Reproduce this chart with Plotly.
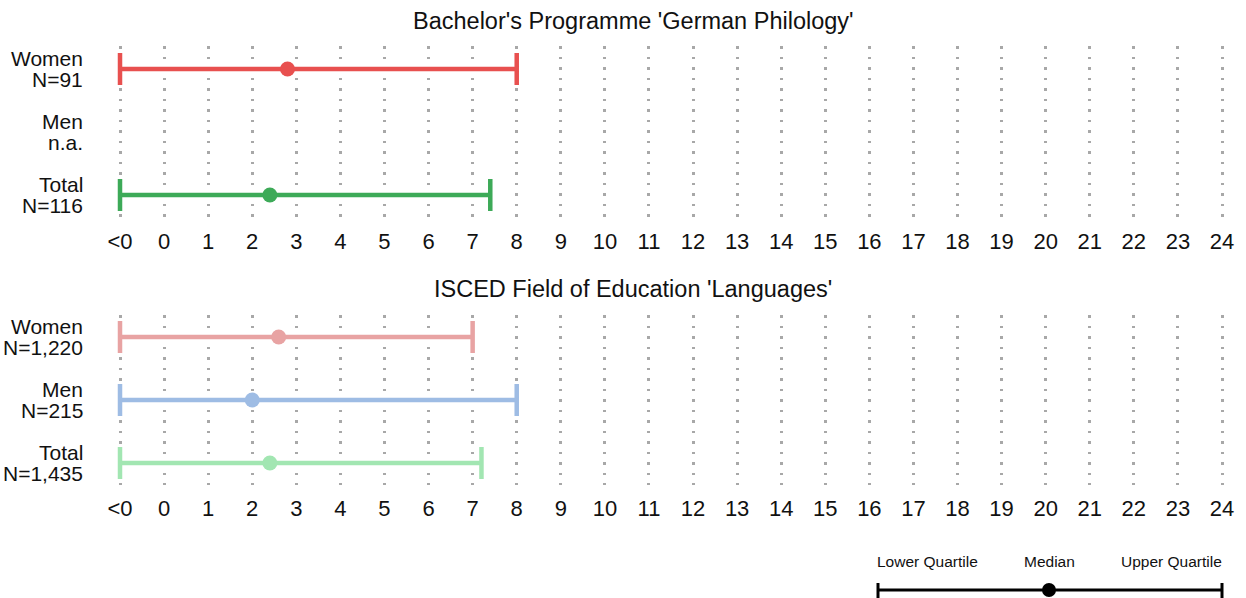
import plotly.graph_objects as go

W, H = 1246, 598

categories = ["Women", "Men", "Total"]

top_title = "Bachelor's Programme 'German Philology'"
top_n = ["N=91", "n.a.", "N=116"]
top_lower = [-1, None, -1]
top_median = [2.8, None, 2.4]
top_upper = [8.0, None, 7.4]
top_colors = ["#E8504F", "#9EBCE4", "#3DAA58"]

bottom_title = "ISCED Field of Education 'Languages'"
bottom_n = ["N=1,220", "N=215", "N=1,435"]
bottom_lower = [-1, -1, -1]
bottom_median = [2.6, 2.0, 2.4]
bottom_upper = [7.0, 8.0, 7.2]
bottom_colors = ["#E8A3A3", "#9EBCE4", "#A2E6B2"]

tick_vals = list(range(-1, 25))
tick_text = ["<0"] + [str(v) for v in range(0, 25)]

legend_labels = ["Lower Quartile", "Median", "Upper Quartile"]

FONT = "Liberation Sans, Arial, sans-serif"

# pixel helpers
x_left_px, unit_px = 120.0, 44.08
xr = [-1 - x_left_px / unit_px, -1 + (W - x_left_px) / unit_px]


def py(p):
    return 1 - p / H


fig = go.Figure()

panels = [
    ("x", "y", top_n, top_lower, top_median, top_upper, top_colors),
    ("x2", "y2", bottom_n, bottom_lower, bottom_median, bottom_upper, bottom_colors),
]

for xa, ya, ns, lo, med, up, cols in panels:
    for i, cat in enumerate(categories):
        if med[i] is None:
            continue
        fig.add_trace(go.Scatter(
            x=[med[i]], y=[i], xaxis=xa, yaxis=ya, mode="markers",
            marker=dict(color=cols[i], size=15, line=dict(width=0)),
            error_x=dict(type="data", symmetric=False,
                         array=[up[i] - med[i]], arrayminus=[med[i] - lo[i]],
                         color=cols[i], thickness=4.5, width=16),
            cliponaxis=False, showlegend=False, hoverinfo="x",
        ))
    for i, cat in enumerate(categories):
        for txt, shift in ((cat, 10.5), (ns[i], -10.5)):
            fig.add_annotation(
                x=85 / W, xref="paper", y=i, yref=ya, xanchor="right", yanchor="middle",
                yshift=shift, text=txt, showarrow=False,
                font=dict(family=FONT, size=21, color="#111111"),
            )

axis_common = dict(
    range=xr, tickmode="array", tickvals=tick_vals, ticktext=tick_text,
    showgrid=True, gridcolor="#A8A8A8", gridwidth=2.5, griddash="2.5px,8px",
    zeroline=False, showline=False, ticks="", ticklabelstandoff=8,
    tickfont=dict(family=FONT, size=22, color="#111111"), domain=[0, 1],
)

fig.update_layout(
    width=W, height=H, margin=dict(l=0, r=0, t=0, b=0),
    paper_bgcolor="white", plot_bgcolor="white",
    xaxis=dict(anchor="y", **axis_common),
    xaxis2=dict(anchor="y2", **axis_common),
    yaxis=dict(domain=[py(218), py(46)], range=[2.365, -0.365], showgrid=False,
               zeroline=False, showticklabels=False, anchor="x"),
    yaxis2=dict(domain=[py(485), py(315)], range=[2.35, -0.35], showgrid=False,
                zeroline=False, showticklabels=False, anchor="x2"),
    showlegend=False,
)

for txt, ypx in [(top_title, 21), (bottom_title, 289)]:
    fig.add_annotation(x=633 / W, y=py(ypx), xref="paper", yref="paper",
                       xanchor="center", yanchor="middle", text=txt, showarrow=False,
                       font=dict(family=FONT, size=23.5, color="#111111"))

# legend key
lx0, lx1, lmed, ly = 878, 1222, 1049, 590
fig.add_shape(type="line", xref="paper", yref="paper", x0=lx0 / W, x1=lx1 / W,
              y0=py(ly), y1=py(ly), line=dict(color="black", width=3))
for xp in (lx0, lx1):
    fig.add_shape(type="line", xref="paper", yref="paper", x0=xp / W, x1=xp / W,
                  y0=py(583), y1=py(600), line=dict(color="black", width=3))
fig.add_shape(type="circle", xref="paper", yref="paper", x0=(lmed - 7) / W, x1=(lmed + 7) / W,
              y0=py(ly + 7), y1=py(ly - 7), fillcolor="black", line=dict(width=0))
for txt, xp, anc in zip(legend_labels, [875, 1049, 1224], ["left", "center", "right"]):
    fig.add_annotation(x=xp / W, y=py(561), xref="paper", yref="paper", xanchor=anc,
                       yanchor="middle", text=txt, showarrow=False,
                       font=dict(family=FONT, size=15.5, color="#111111"))

fig.write_html("out.html", config={"displayModeBar": False},
               post_script="document.body.style.margin='0';")
